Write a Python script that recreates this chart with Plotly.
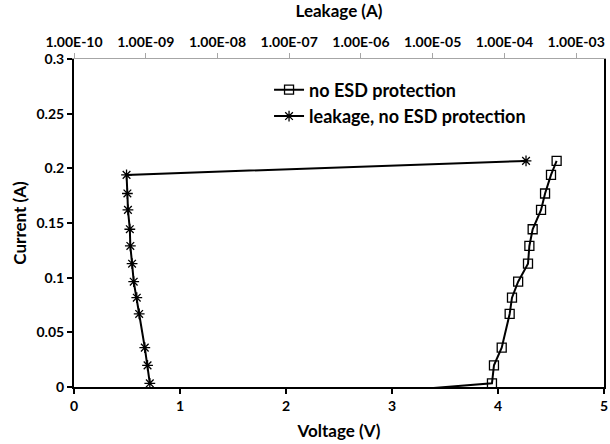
import plotly.graph_objects as go

# Current vs. voltage without ESD protection (bottom axis)
voltage_v = [2.0, 3.943, 3.962, 4.035, 4.110, 4.132, 4.190, 4.283, 4.296, 4.327, 4.406, 4.444, 4.500, 4.553]
current_iv_a = [-0.0118, 0.0034, 0.0198, 0.0360, 0.0668, 0.0817, 0.0963, 0.1128, 0.1290, 0.1443, 0.1620, 0.1770, 0.1940, 0.2068]

# Leakage after each current step (top, log axis)
leakage_a = [1.14e-9, 1.06e-9, 9.7e-10, 8.1e-10, 7.5e-10, 6.8e-10, 6.45e-10, 6.1e-10, 6.0e-10, 5.65e-10, 5.55e-10, 5.4e-10, 2.0e-4]
current_leak_a = [0.0034, 0.0198, 0.0360, 0.0668, 0.0817, 0.0963, 0.1128, 0.1290, 0.1443, 0.1620, 0.1770, 0.1940, 0.2068]

leak_tickvals = [1e-10, 1e-9, 1e-8, 1e-7, 1e-6, 1e-5, 1e-4, 1e-3]
leak_ticktext = ["1.00E-10", "1.00E-09", "1.00E-08", "1.00E-07", "1.00E-06", "1.00E-05", "1.00E-04", "1.00E-03"]

FONT = "Lato"

fig = go.Figure()
fig.add_trace(go.Scatter(
    x=voltage_v, y=current_iv_a, name="no ESD protection",
    mode="lines+markers", cliponaxis=True,
    line=dict(color="black", width=2),
    marker=dict(symbol="square-open", size=9, color="black", line=dict(width=1.3)),
))
fig.add_trace(go.Scatter(
    x=leakage_a, y=current_leak_a, name="leakage, no ESD protection",
    xaxis="x2", mode="lines+markers",
    line=dict(color="black", width=2),
    marker=dict(symbol="asterisk-open", size=9, color="black", line=dict(width=1.3, color="black")),
))

fig.update_layout(
    width=610, height=444,
    margin=dict(l=74, r=6, t=59, b=57),
    paper_bgcolor="white", plot_bgcolor="white",
    font=dict(family=FONT, color="black"),
    showlegend=True,
    legend=dict(x=0.368, y=0.962, xanchor="left", yanchor="top", tracegroupgap=0,
                bgcolor="rgba(0,0,0,0)", font=dict(family=FONT, size=18, color="black", weight="bold")),
    xaxis=dict(
        range=[0, 5], dtick=1, showgrid=False, zeroline=False, automargin=False,
        showline=True, linecolor="black", linewidth=2,
        ticks="outside", ticklen=5, tickwidth=2, tickcolor="black",
        tickfont=dict(family=FONT, size=14, weight="bold"),
        title=dict(text="Voltage (V)", font=dict(family=FONT, size=17, weight="bold"), standoff=12),
    ),
    xaxis2=dict(
        type="log", overlaying="x", side="top", anchor="y", automargin=False,
        range=[-10, -2.612], tickvals=leak_tickvals, ticktext=leak_ticktext,
        showgrid=False, zeroline=False,
        showline=True, linecolor="#a6a6a6", linewidth=1,
        ticks="outside", ticklen=5, tickwidth=1, tickcolor="#a6a6a6",
        tickfont=dict(family=FONT, size=14, weight="bold"),
        title=dict(text="Leakage (A)", font=dict(family=FONT, size=17, weight="bold"), standoff=11),
    ),
    yaxis=dict(
        range=[0, 0.3], dtick=0.05, showgrid=False, zeroline=False, automargin=False,
        showline=True, linecolor="black", linewidth=2, mirror=True,
        ticks="outside", ticklen=5, tickwidth=2, tickcolor="black",
        tickfont=dict(family=FONT, size=14, weight="bold"),
        title=dict(text="Current (A)", font=dict(family=FONT, size=17, weight="bold"), standoff=6),
    ),
)

fig.write_html("out.html")
